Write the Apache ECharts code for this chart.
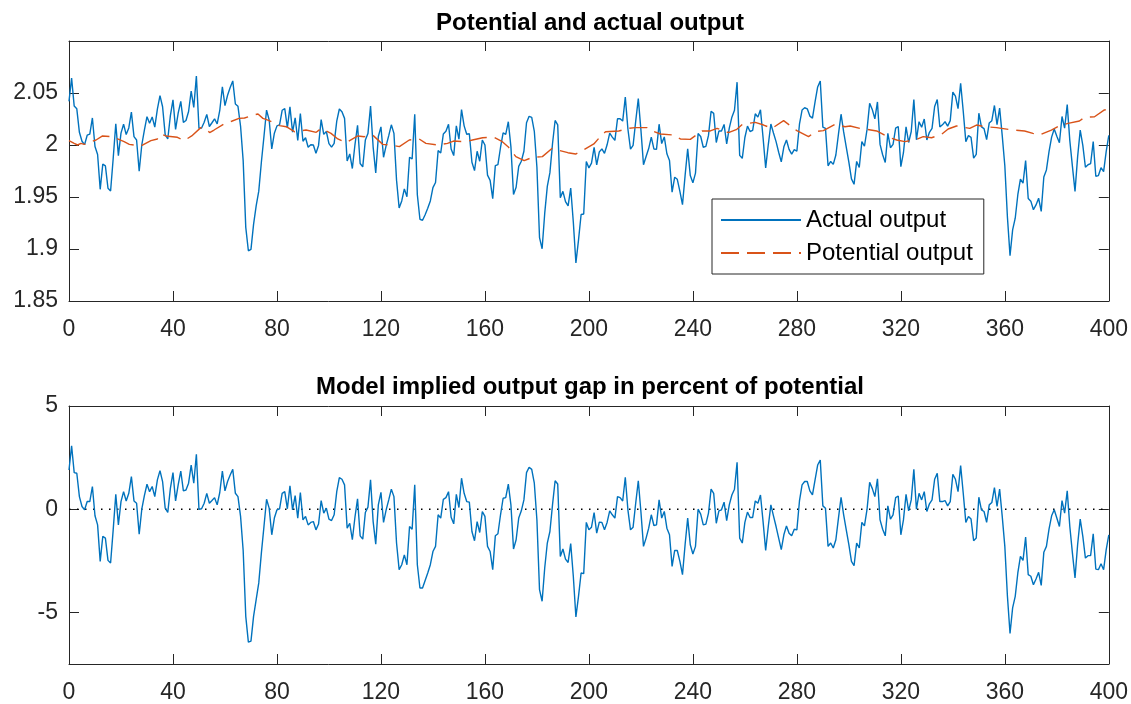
<!DOCTYPE html>
<html><head><meta charset="utf-8">
<script src="https://cdn.jsdelivr.net/npm/echarts@6/dist/echarts.min.js"></script>
<style>html,body{margin:0;padding:0;background:#fff}#c{width:1131px;height:704px}</style>
</head><body><div id="c"></div>
<script>
// ---------------- DATA ----------------
const xTicks = [0, 40, 80, 120, 160, 200, 240, 280, 320, 360, 400];
const topYTicks = [1.85, 1.9, 1.95, 2, 2.05];
const botYTicks = [-5, 0, 5];
const titleTop = 'Potential and actual output';
const titleBottom = 'Model implied output gap in percent of potential';
const legendNames = ['Actual output', 'Potential output'];

// Actual output, periods 0..400
const actualOutput = [
2.042,2.0644,2.0374,2.0348,2.0122,2.0036,2.0004,2.0094,2.0104,2.026,
1.9986,1.9908,1.9574,1.9816,1.98,1.9584,1.9558,1.987,2.0204,1.9898,
2.0114,2.02,2.01,2.0164,2.0316,2.008,2.0048,1.9748,2.0,2.0142,
2.0272,2.021,2.027,2.0172,2.0344,2.0474,2.0368,2.01,2.0058,2.0282,
2.0434,2.015,2.0306,2.042,2.0218,2.0236,2.0322,2.0518,2.0362,2.0662,
2.016,2.0164,2.0218,2.0294,2.0178,2.0214,2.0252,2.0202,2.0332,2.056,
2.0378,2.0478,2.0552,2.0616,2.0394,2.0372,2.018,1.985,1.9208,1.8983,
1.8997,1.9237,1.9414,1.9556,1.9834,2.0082,2.0336,2.024,1.9962,2.0114,
2.0184,2.0194,2.0334,2.035,2.0164,2.0366,2.0124,2.0262,2.0044,2.0302,
2.0036,2.007,1.9978,2.0002,2.0,1.992,1.9996,2.0244,2.0102,2.013,
2.0014,1.998,2.0016,2.023,2.0346,2.032,2.0256,1.9846,1.9914,1.9774,
2.0002,2.019,1.9822,1.979,2.0048,2.011,2.0374,1.998,1.9732,2.0082,
2.0174,1.9882,1.9994,2.009,2.0194,2.0112,1.9662,1.9394,1.9462,1.9578,
1.9502,1.9882,1.9866,2.0296,1.9522,1.9286,1.9276,1.933,1.9392,1.9462,
1.959,1.964,1.9946,1.9924,2.0106,2.0132,2.02,1.9962,1.9898,2.0184,
2.0056,2.034,2.0184,2.0104,2.0108,1.9834,1.9754,1.994,1.9844,2.0048,
2.0,1.971,1.966,1.9484,1.9802,1.9812,1.9976,2.0116,2.0102,2.0224,
1.9982,1.9524,1.9594,1.9794,1.9844,1.994,2.0214,2.0276,2.0266,2.0132,
1.9786,1.911,1.9002,1.9342,1.9602,1.9734,2.0012,2.0236,2.0194,1.9492,
1.9554,1.9456,1.9414,1.9586,1.926,1.8866,1.9086,1.9332,1.9336,1.9842,
1.978,1.9826,1.9978,1.9808,1.9934,1.9962,1.992,2.0002,2.0114,2.0076,
2.0044,2.0252,2.0252,2.023,2.046,2.0154,1.996,1.9996,2.0228,2.0446,
2.0148,1.981,1.989,1.9966,2.0076,1.9962,1.9958,2.02,2.0014,2.0078,
1.9916,1.9852,1.9546,1.969,1.967,1.9554,1.9426,1.9706,1.9964,1.9706,
1.9636,1.973,2.011,2.0082,1.9978,1.9986,2.0092,2.0324,2.0304,2.0024,
2.0134,2.0134,2.0198,2.001,2.0162,2.0268,2.0334,2.0604,1.99,1.9872,
2.0072,2.0182,2.013,2.014,2.03,2.0268,2.0338,2.007,1.978,2.0002,
2.0202,2.0116,2.0032,1.993,1.9838,1.9982,2.0048,1.9958,1.9912,1.9956,
1.994,2.02,2.0336,2.0358,2.0348,2.0278,2.0258,2.0414,2.0558,2.0616,
2.0172,2.016,1.98,1.9842,1.9814,1.9904,2.0104,2.0296,2.0126,1.998,
1.9836,1.9674,1.9622,1.9842,1.9784,2.0032,1.9988,2.015,2.04,2.0342,
2.0252,2.0414,2.0006,1.9906,1.9832,2.0112,1.9974,2.0006,2.0162,2.0178,
1.9792,1.9926,2.0174,2.0024,2.013,2.0436,2.005,2.0224,2.017,2.025,
2.0048,2.0122,2.016,2.037,2.0438,2.0174,2.0194,2.0224,2.0182,2.0234,
2.0508,2.047,2.035,2.0592,2.0324,2.0032,2.009,2.0074,1.9874,1.991,
2.0306,2.0174,2.0158,2.0052,2.0212,2.0234,2.038,2.0196,2.0354,2.009,
1.98,1.9306,1.8936,1.9184,1.9296,1.9522,1.9672,1.9634,1.985,1.9486,
1.946,1.9378,1.9424,1.9488,1.9362,1.9692,1.976,1.9936,2.0076,2.0154,
2.0084,2.0022,2.0274,2.0162,2.0388,2.0042,1.9794,1.9554,1.9886,2.0144,
1.9996,1.9786,1.981,1.982,2.0032,1.97,1.9706,1.9782,1.9744,1.9938,
2.0092];

// Potential output, sampled positions along the dashed curve
const potentialX = [0,2,3.3,4.6,5.9,10.4,12.9,16.8,21.2,23.2,27.6,31.5,34,35.3,37.2,41.7,44.3,47.2,50.7,52.6,54.1,55.8,59.6,62.8,65.4,67.5,71,72.7,74.6,76.5,81,83.6,86.7,91.2,95.1,97,100.8,103.4,106.6,111.1,113.6,116.8,120.7,123.9,127.1,130.9,134.7,137.3,141.8,145.6,147.9,152.7,155.2,159.1,163.5,166.7,168.9,171.9,175.1,178.2,182.1,185.9,187.8,191.9,194.9,198.3,201.9,203.8,206.4,211.5,215.4,217.9,222.4,224.3,227.5,232.6,235.2,239,243.5,246.7,249.3,253.7,256.9,259.1,264,267.2,270.4,274.9,280,284.5,287,290.2,294.7,298.5,300.5,304.3,306.9,310.7,315.8,318.4,321.6,326,328.6,331.8,335.6,338.2,341.4,346.5,349.1,352.3,356.8,363.2,367.6,370.8,373.4,377.9,381.1,384.3,388.7,390.7,394.5,398.3,400];
const potentialY = [2.0042,2.0016,2.0,2.0016,2.0006,2.0048,2.0087,2.008,2.0032,2.0006,1.999,2.0042,2.0058,2.0106,2.0087,2.0074,2.0042,2.0087,2.0167,2.016,2.0119,2.0144,2.0202,2.0231,2.0256,2.026,2.0288,2.0298,2.0256,2.024,2.0186,2.0176,2.0128,2.0144,2.0122,2.016,2.0112,2.0058,2.0022,2.0087,2.008,2.0096,2.0006,2.0,1.9984,2.0048,2.0058,2.0016,2.0,2.0016,2.0038,2.0032,2.0048,2.007,2.0074,2.0032,1.9984,1.9888,1.9849,1.9881,1.9888,1.9968,1.9952,1.9926,1.9913,1.9958,2.001,2.0064,2.0128,2.0135,2.016,2.0167,2.0167,2.0135,2.0106,2.0096,2.0058,2.0054,2.0135,2.0135,2.016,2.0119,2.0151,2.0199,2.0218,2.0192,2.016,2.0234,2.0138,2.008,2.0128,2.0138,2.0199,2.0176,2.0183,2.016,2.0151,2.0135,2.007,2.0048,2.0032,2.0054,2.008,2.007,2.0101,2.0154,2.0183,2.016,2.0192,2.0176,2.0167,2.0144,2.0135,2.0112,2.0096,2.0144,2.0186,2.0208,2.0231,2.0266,2.0272,2.0337,2.0343];

// Output gap (% of potential), periods 0..400
const outputGap = [
1.9,3.07,1.77,1.74,0.61,0.13,-0.03,0.37,0.37,1.1,
-0.32,-0.76,-2.53,-1.32,-1.4,-2.48,-2.61,-1.0,0.72,-0.76,
0.37,0.85,0.4,0.77,1.58,0.4,0.29,-1.21,0,0.66,
1.21,0.85,1.1,0.61,1.42,1.87,1.34,0.05,-0.16,1.01,
1.77,0.4,1.18,1.85,0.89,0.93,1.26,2.14,1.26,2.66,
0,0.02,0.29,0.77,0.29,0.42,0.56,0.21,0.81,1.85,
0.89,1.34,1.66,1.93,0.77,0.61,-0.35,-2.0,-5.19,-6.44,
-6.39,-5.19,-4.38,-3.57,-2.13,-0.84,0.48,0.05,-1.24,-0.43,
-0.03,0.02,0.77,0.85,0.02,1.13,-0.03,0.66,-0.43,0.81,
-0.52,-0.35,-0.76,-0.64,-0.6,-1.0,-0.72,0.42,-0.19,0.05,
-0.48,-0.55,-0.27,0.85,1.53,1.45,1.18,-0.92,-0.68,-1.48,
-0.39,0.5,-1.29,-1.45,-0.16,0.1,1.42,-0.6,-1.69,0.21,
0.82,-0.64,-0.03,0.45,0.97,0.61,-1.64,-2.93,-2.69,-2.21,
-2.69,-0.84,-0.97,1.18,-2.69,-3.82,-3.82,-3.45,-3.09,-2.69,
-2.05,-1.8,-0.27,-0.43,0.48,0.56,0.85,-0.39,-0.71,0.72,
0.08,1.5,0.77,0.37,0.34,-1.08,-1.53,-0.6,-1.13,-0.11,
-0.35,-1.8,-2.05,-2.93,-1.29,-1.19,-0.27,0.53,0.56,1.22,
0.21,-1.93,-1.48,-0.43,-0.08,0.45,1.77,2.03,1.93,1.26,
-0.52,-3.9,-4.46,-2.85,-1.64,-1.08,0.21,1.38,1.22,-2.29,
-1.93,-2.42,-2.58,-1.67,-3.25,-5.22,-4.22,-3.09,-3.12,-0.64,
-1.0,-0.87,-0.16,-1.16,-0.63,-0.64,-1.0,-0.64,-0.08,-0.27,
-0.43,0.61,0.56,0.4,1.55,-0.03,-1.0,-0.87,0.29,1.38,
-0.11,-1.8,-1.4,-0.92,-0.27,-0.79,-0.76,0.45,-0.43,-0.11,
-0.92,-1.24,-2.77,-2.0,-2.0,-2.53,-3.17,-1.72,-0.43,-1.72,
-2.17,-1.8,0,-0.24,-0.76,-0.72,-0.19,0.97,0.77,-0.68,
-0.08,-0.03,0.34,-0.55,0.21,0.69,0.97,2.27,-1.4,-1.64,
-0.64,-0.14,-0.4,-0.4,0.4,0.29,0.69,-0.6,-2.0,-0.84,
0.21,-0.32,-0.84,-1.4,-1.96,-1.24,-0.81,-1.16,-1.29,-0.97,
-1.0,0.4,1.18,1.34,1.34,0.89,0.69,1.42,2.14,2.38,
0.16,0.05,-1.8,-1.64,-1.88,-1.48,-0.43,0.58,-0.27,-1.0,
-1.72,-2.53,-2.74,-1.64,-1.88,-0.64,-0.81,0,1.3,1.01,
0.61,1.47,-0.52,-0.97,-1.29,0.16,-0.48,-0.27,0.56,0.64,
-1.24,-0.52,0.72,-0.08,0.45,1.93,0,0.77,0.45,0.85,
-0.11,0.26,0.45,1.45,1.74,0.37,0.37,0.42,0.16,0.37,
1.69,1.45,0.85,2.11,0.77,-0.64,-0.35,-0.48,-1.53,-1.4,
0.58,-0.03,-0.11,-0.64,0.21,0.32,1.05,0.13,0.97,-0.35,
-1.8,-4.22,-6.02,-4.78,-4.22,-3.09,-2.29,-2.48,-1.35,-3.17,
-3.25,-3.66,-3.38,-3.06,-3.69,-2.09,-1.8,-0.97,-0.32,-0.03,
-0.43,-0.84,0.42,-0.19,0.89,-0.84,-2.13,-3.33,-1.72,-0.48,
-1.32,-2.37,-2.25,-2.25,-1.19,-2.9,-2.93,-2.64,-2.93,-1.96,
-1.24];

const zeroLine = [[0, 0], [400, 0]];

// ---------------- CHART ----------------
const FONT = "'Liberation Sans', Arial, Helvetica, sans-serif";
const AX = '#262626';
const BLUE = '#0072BD';
const ORANGE = '#D95319';

function fmt(v) { return String(Math.round(v * 100) / 100); }

function xAxis(grid, pos, showLabel) {
  return {
    type: 'value', gridIndex: grid, position: pos, min: 0, max: 400, interval: 40,
    axisLine: { show: true, onZero: false, lineStyle: { color: AX, width: 1 } },
    axisTick: { show: true, inside: true, length: 10, lineStyle: { color: AX } },
    axisLabel: { show: showLabel, margin: 17, fontSize: 23, fontFamily: FONT, color: AX, formatter: fmt },
    splitLine: { show: false }
  };
}
function yAxis(grid, pos, min, max, ticks, showLabel) {
  return {
    type: 'value', gridIndex: grid, position: pos, min: min, max: max,
    axisLine: { show: true, onZero: false, lineStyle: { color: AX, width: 1 } },
    axisTick: { show: true, inside: true, length: 10, lineStyle: { color: AX }, customValues: ticks },
    axisLabel: { show: showLabel, margin: 11, fontSize: 23, fontFamily: FONT, color: AX, customValues: ticks, formatter: fmt, padding: [8, 0, 0, 0] },
    splitLine: { show: false }
  };
}

const chart = echarts.init(document.getElementById('c'), null, { renderer: 'canvas' });
chart.setOption({
  animation: false,
  backgroundColor: '#fff',
  grid: [
    { left: 69, top: 41, width: 1042, height: 260 },
    { left: 69, top: 406, width: 1042, height: 259 }
  ],
  xAxis: [xAxis(0, 'bottom', true), xAxis(0, 'top', false), xAxis(1, 'bottom', true), xAxis(1, 'top', false)],
  yAxis: [
    yAxis(0, 'left', 1.85, 2.1, topYTicks, true),
    yAxis(0, 'right', 1.85, 2.1, topYTicks, false),
    yAxis(1, 'left', -7.5, 5, botYTicks, true),
    yAxis(1, 'right', -7.5, 5, botYTicks, false)
  ],
  legend: {
    data: legendNames, orient: 'vertical', left: 712, top: 199,
    backgroundColor: '#fff', borderColor: AX, borderWidth: 1, borderRadius: 0,
    padding: [9, 11, 9, 8], itemWidth: 80, itemHeight: 14, itemGap: 9,
    itemStyle: { opacity: 0 },
    textStyle: { fontSize: 24, fontFamily: FONT, color: '#000' }
  },
  graphic: [
    { type: 'text', x: 590, y: 23, style: { text: titleTop, font: 'bold 24px ' + FONT, fill: '#000', textAlign: 'center', textVerticalAlign: 'middle' } },
    { type: 'text', x: 590, y: 387, style: { text: titleBottom, font: 'bold 24px ' + FONT, fill: '#000', textAlign: 'center', textVerticalAlign: 'middle' } }
  ],
  series: [
    {
      name: legendNames[0], type: 'line', xAxisIndex: 0, yAxisIndex: 0, symbol: 'none',
      data: actualOutput.map((v, i) => [i, v]),
      lineStyle: { color: BLUE, width: 1.4 }, itemStyle: { color: BLUE }, z: 3
    },
    {
      name: legendNames[1], type: 'line', xAxisIndex: 0, yAxisIndex: 0, symbol: 'none',
      data: potentialX.map((x, i) => [x, potentialY[i]]),
      lineStyle: { color: ORANGE, width: 1.4, type: [18, 8] }, itemStyle: { color: ORANGE }, z: 4
    },
    {
      name: 'Output gap', type: 'line', xAxisIndex: 2, yAxisIndex: 2, symbol: 'none',
      data: outputGap.map((v, i) => [i, v]),
      lineStyle: { color: BLUE, width: 1.4 }, itemStyle: { color: BLUE }, z: 3
    },
    {
      name: 'Zero', type: 'line', xAxisIndex: 2, yAxisIndex: 2, symbol: 'none',
      data: zeroLine,
      lineStyle: { color: '#000', width: 1.5, type: [1.5, 6.5] }, z: 2
    }
  ]
});
</script>
</body></html>
